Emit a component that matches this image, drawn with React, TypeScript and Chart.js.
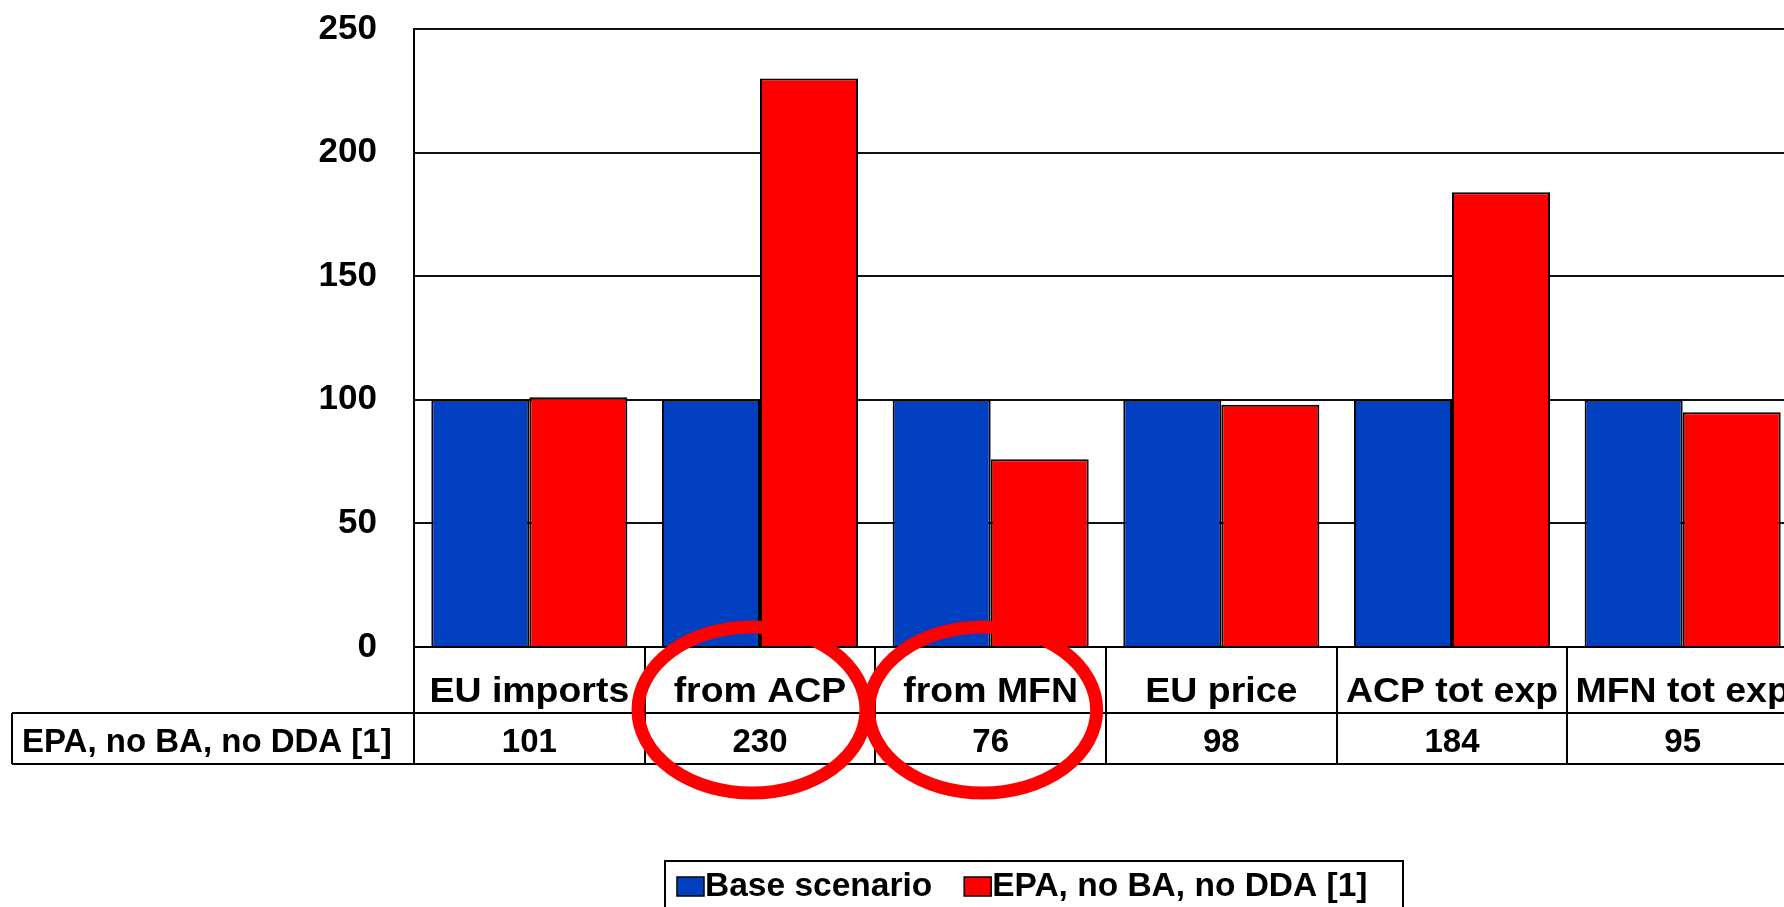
import React, { useEffect, useRef } from "react";
import { Chart, registerables } from "chart.js";

Chart.register(...registerables);

const categories = ["EU imports", "from ACP", "from MFN", "EU price", "ACP tot exp", "MFN tot exp"];
const baseValues = [100, 100, 100, 100, 100, 100];
const epaValues = [101, 230, 76, 98, 184, 95];
const seriesLabels = ["Base scenario", "EPA, no BA, no DDA [1]"];
const seriesColors = ["#0040C0", "#FF0000"];
const yTickValues = [0, 50, 100, 150, 200, 250];
const highlighted = ["from ACP", "from MFN"];
const tableRowLabel = "EPA, no BA, no DDA [1]";

const FONT = '"Liberation Sans", Arial, Helvetica, sans-serif';
const CANVAS_W = 1810;
const CANVAS_H = 907;

function line(ctx: CanvasRenderingContext2D, x1: number, y1: number, x2: number, y2: number) {
  ctx.beginPath();
  ctx.moveTo(x1, y1);
  ctx.lineTo(x2, y2);
  ctx.stroke();
}

function stretchedText(ctx: CanvasRenderingContext2D, text: string, x: number, y: number, sx: number) {
  ctx.save();
  ctx.translate(x, y);
  ctx.scale(sx, 1);
  ctx.fillText(text, 0, 0);
  ctx.restore();
}

const tablePlugin = {
  id: "dataTable",
  afterDraw(chart: any) {
    const { ctx, chartArea: a } = chart;
    const x = chart.scales.x;
    const n = categories.length;
    const cw = (a.right - a.left) / n;
    const row1Top = a.bottom;
    const row1Bot = a.bottom + 66;
    const row2Bot = row1Bot + 51;
    const tableLeft = 12;
    ctx.save();
    ctx.strokeStyle = "#000";
    ctx.lineWidth = 2;
    line(ctx, a.left, row1Top, a.right, row1Top);
    line(ctx, tableLeft, row1Bot, a.right, row1Bot);
    line(ctx, tableLeft, row2Bot, a.right, row2Bot);
    line(ctx, tableLeft, row1Bot, tableLeft, row2Bot);
    for (let k = 0; k <= n; k++) {
      const px = Math.round(a.left + k * cw);
      line(ctx, px, row1Top, px, row2Bot);
    }
    ctx.fillStyle = "#000";
    ctx.textBaseline = "alphabetic";
    ctx.textAlign = "center";
    ctx.font = `bold 35px ${FONT}`;
    categories.forEach((c, i) => stretchedText(ctx, c, x.getPixelForValue(i), row1Top + 55, 1.07));
    ctx.font = `bold 33px ${FONT}`;
    epaValues.forEach((v, i) => ctx.fillText(String(v), x.getPixelForValue(i), row2Bot - 12));
    ctx.textAlign = "left";
    ctx.fillText(tableRowLabel, 22, row2Bot - 12);

    // highlight ellipses
    ctx.strokeStyle = "#FF0000";
    ctx.lineWidth = 13;
    highlighted.forEach((h) => {
      const i = categories.indexOf(h);
      if (i < 0) return;
      const cx = x.getPixelForValue(i) - 8;
      const cy = row1Bot - 3;
      ctx.beginPath();
      ctx.ellipse(cx, cy, 114, 83, 0, 0, Math.PI * 2);
      ctx.stroke();
    });

    // legend box
    const lx = 665;
    const ly = 861;
    ctx.strokeStyle = "#000";
    ctx.lineWidth = 2;
    ctx.strokeRect(lx, ly, 738, 70);
    let cx = lx + 12;
    ctx.font = `bold 33.5px ${FONT}`;
    ctx.textAlign = "left";
    chart.data.datasets.forEach((ds: any) => {
      ctx.fillStyle = ds.backgroundColor;
      ctx.fillRect(cx, ly + 16, 27, 19);
      ctx.strokeStyle = "#000";
      ctx.lineWidth = 1.5;
      ctx.strokeRect(cx, ly + 16, 27, 19);
      ctx.fillStyle = "#000";
      ctx.fillText(ds.label, cx + 28, ly + 35);
      cx += 28 + ctx.measureText(ds.label).width + 32;
    });
    ctx.restore();
  },
};

export default function App() {
  const ref = useRef<HTMLCanvasElement | null>(null);
  useEffect(() => {
    if (!ref.current) return;
    const chart = new Chart(ref.current, {
      type: "bar",
      data: {
        labels: categories,
        datasets: [
          {
            label: seriesLabels[0],
            data: baseValues,
            backgroundColor: seriesColors[0],
            borderColor: "#000",
            borderWidth: 2,
            categoryPercentage: 0.85,
            barPercentage: 1,
          },
          {
            label: seriesLabels[1],
            data: epaValues,
            backgroundColor: seriesColors[1],
            borderColor: "#000",
            borderWidth: 2,
            categoryPercentage: 0.85,
            barPercentage: 1,
          },
        ],
      },
      options: {
        responsive: false,
        animation: false,
        devicePixelRatio: 1,
        layout: { padding: { left: 0, top: 29, right: CANVAS_W - 1798, bottom: CANVAS_H - 647 } },
        plugins: { legend: { display: false }, tooltip: { enabled: false }, title: { display: false } },
        scales: {
          x: { display: false, offset: true },
          y: {
            min: 0,
            max: 250,
            afterFit: (s: any) => {
              s.width = 414;
              s.paddingTop = 0;
              s.paddingBottom = 0;
            },
            afterBuildTicks: (s: any) => {
              s.ticks = yTickValues.map((v) => ({ value: v }));
            },
            border: { display: true, color: "#000", width: 2 },
            grid: { color: "#111", lineWidth: 2, drawTicks: false },
            ticks: {
              color: "#000",
              padding: 37,
              font: { family: FONT, size: 35, weight: "bold" },
            },
          },
        },
      },
      plugins: [tablePlugin],
    });
    return () => chart.destroy();
  }, []);
  return (
    <div style={{ position: "fixed", left: 0, top: 0, width: 1784, height: 907, overflow: "hidden", background: "#fff" }}>
      <canvas ref={ref} width={CANVAS_W} height={CANVAS_H} style={{ display: "block", width: CANVAS_W, height: CANVAS_H }} />
    </div>
  );
}
